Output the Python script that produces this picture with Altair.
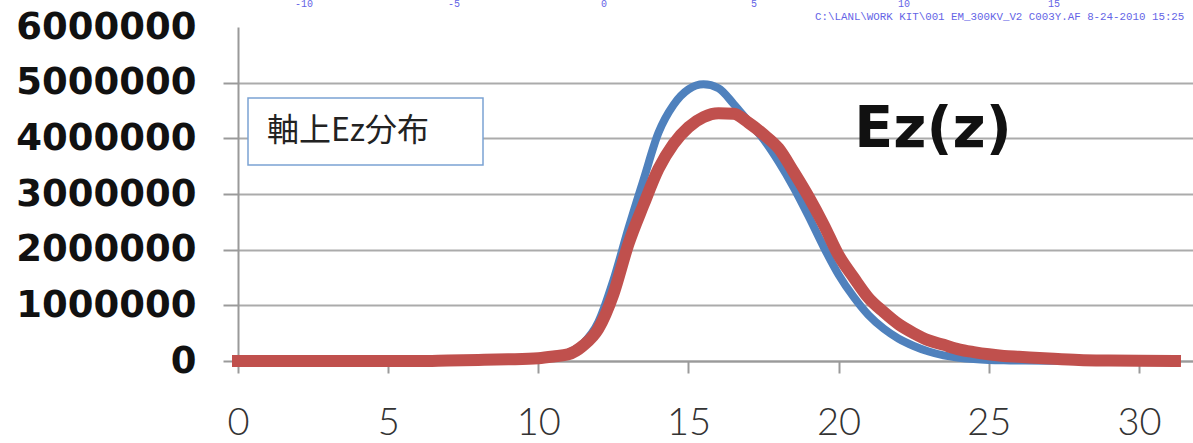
import altair as alt
import pandas as pd

# Axial position z and on-axis field Ez(z) for the two computed cases
z_pos = [0, 1, 2, 3, 4, 5, 6, 7, 8, 9,
         10, 10.5, 11, 11.5, 12, 12.5, 13, 13.5, 14, 14.5,
         15, 15.5, 16, 16.5, 17, 17.5, 18, 18.5, 19, 19.5,
         20, 20.5, 21, 21.5, 22, 22.5, 23, 23.5, 24, 24.5,
         25, 25.5, 26, 27, 28, 29, 30, 31.2]
ez_blue = [0, 0, 0, 0, 0, 0, 0, 10000, 15000, 25000,
           50000, 80000, 150000, 320000, 700000, 1450000, 2380000, 3250000, 4100000, 4600000,
           4880000, 4970000, 4900000, 4620000, 4300000, 3980000, 3580000, 3120000, 2600000, 2050000,
           1550000, 1150000, 820000, 580000, 400000, 270000, 170000, 100000, 60000, 35000,
           20000, 12000, 8000, 4000, 2000, 1000, 0, 0]
ez_red = [0, 0, 0, 0, 0, 0, 0, 10000, 20000, 30000,
          50000, 80000, 120000, 280000, 580000, 1200000, 2100000, 2800000, 3450000, 3900000,
          4200000, 4380000, 4450000, 4440000, 4280000, 4070000, 3820000, 3400000, 2950000, 2450000,
          1900000, 1500000, 1130000, 880000, 660000, 500000, 370000, 290000, 210000, 160000,
          120000, 90000, 75000, 45000, 20000, 10000, 5000, 0]

x_ticks = [0, 5, 10, 15, 20, 25, 30]
y_ticks = [0, 1000000, 2000000, 3000000, 4000000, 5000000, 6000000]

top_ruler = ["-10", "-5", "0", "5", "10", "15"]
file_stamp = "C:\\LANL\\WORK KIT\\001 EM_300KV_V2 C003Y.AF  8-24-2010  15:25"
box_label = "軸上Ez分布"
curve_title = "Ez(z)"

W, H = 955, 334

# One long table so both curves share a single encoding
df = pd.concat([
    pd.DataFrame({"z": z_pos, "ez": ez_blue, "case": "a"}),
    pd.DataFrame({"z": z_pos, "ez": ez_red, "case": "b"}),
], ignore_index=True)

x_scale = alt.Scale(domain=[0, 31.8], nice=False, zero=False)
y_scale = alt.Scale(domain=[0, 6000000], nice=False)

x_axis = alt.Axis(
    values=x_ticks, title=None, grid=False,
    domainColor="#9a9a9a", domainWidth=2,
    tickColor="#9a9a9a", tickWidth=2, tickSize=12,
    labelFont="Lato", labelFontWeight=300, labelFontSize=38, labelColor="#333333",
    labelPadding=31, labelFlush=False,
)
y_axis = alt.Axis(
    values=y_ticks, title=None,
    grid=True, gridColor="#ababab", gridWidth=2,
    gridOpacity={"condition": {"test": "datum.value >= 6000000", "value": 0}, "value": 1},
    tickOpacity={"condition": {"test": "datum.value >= 6000000", "value": 0}, "value": 1},
    domainColor="#9a9a9a", domainWidth=2,
    tickColor="#9a9a9a", tickWidth=2, tickSize=15,
    labelFont="DejaVu Sans", labelFontWeight="bold", labelFontSize=37, labelColor="#111111",
    labelPadding=27, labelFlush=False, labelLimit=0, format="d",
)

curves = alt.Chart(df).mark_line(
    interpolate="monotone", strokeCap="square"
).encode(
    x=alt.X("z:Q", scale=x_scale, axis=x_axis),
    y=alt.Y("ez:Q", scale=y_scale, axis=y_axis),
    color=alt.Color("case:N", scale=alt.Scale(domain=["a", "b"], range=["#4F81BD", "#C0504D"]), legend=None),
    strokeWidth=alt.StrokeWidth("case:N", scale=alt.Scale(domain=["a", "b"], range=[8, 12]), legend=None),
    order=alt.Order("case:N"),
    detail="case:N",
)

# Caption box in the upper left of the plot
box = alt.Chart(pd.DataFrame({"t": [box_label]})).mark_rect(
    fill="white", stroke="#7BA3D3", strokeWidth=1.5
).encode(x=alt.value(10), x2=alt.value(245), y=alt.value(71), y2=alt.value(138))
box_text = alt.Chart(pd.DataFrame({"t": [box_label]})).mark_text(
    font="Noto Sans CJK JP", fontSize=32, color="#222222", align="left", baseline="middle"
).encode(x=alt.value(29), y=alt.value(104), text="t:N")

title_text = alt.Chart(pd.DataFrame({"t": [curve_title]})).mark_text(
    font="DejaVu Sans", fontWeight="bold", fontSize=57, color="#111111",
    align="center", baseline="middle"
).encode(x=alt.value(695), y=alt.value(103), text="t:N")

# Small blue ruler numbers, one every 150 px, and the file stamp along the top edge
ruler_df = pd.DataFrame({"t": top_ruler})
ruler_layers = [
    alt.Chart(ruler_df.iloc[[i]]).mark_text(
        font="Liberation Mono", fontSize=10, color="#6464e6", align="center", baseline="middle"
    ).encode(x=alt.value(66 + 150 * i), y=alt.value(-23), text="t:N")
    for i in range(len(top_ruler))
]
stamp = alt.Chart(pd.DataFrame({"t": [file_stamp]})).mark_text(
    font="Liberation Mono", fontSize=10.8, color="#6464e6", align="left", baseline="middle"
).encode(x=alt.value(577), y=alt.value(-10), text="t:N")

chart = alt.layer(
    curves, box, box_text, title_text, *ruler_layers, stamp
).properties(
    width=W, height=H,
    autosize=alt.AutoSizeParams(type="none"),
    padding={"left": 238, "top": 27, "right": 0, "bottom": 82},
    background="white",
).configure_view(stroke=None)

chart.save("out.html", embed_options={"renderer": "svg", "actions": False})
